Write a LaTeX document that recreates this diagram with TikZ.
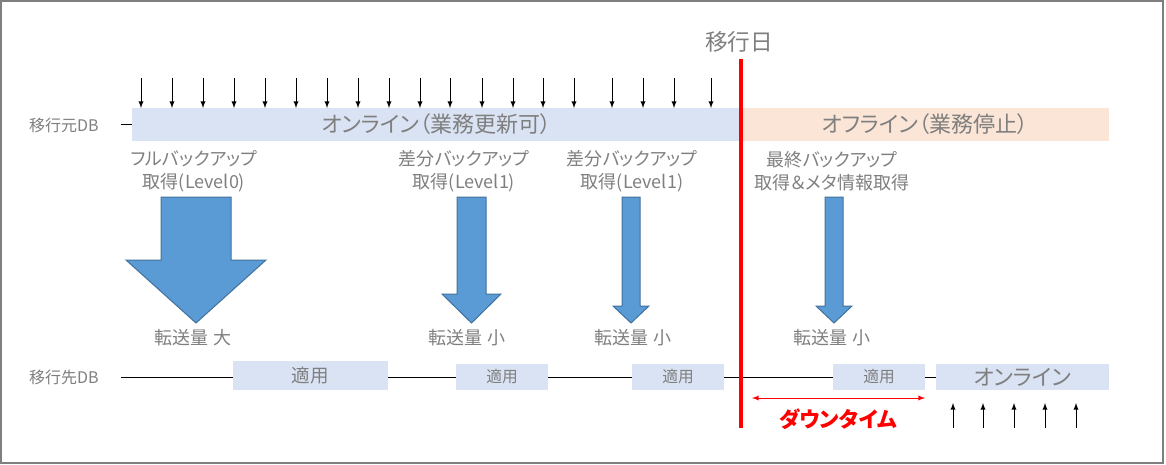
\documentclass[tikz,border=0pt]{standalone}
\usepackage{fontspec}
\setmainfont{Noto Sans CJK JP}[RawFeature=+palt]
\definecolor{txtgray}{HTML}{7F7F7F}
\definecolor{framegray}{HTML}{7F7F7F}
\definecolor{barblue}{HTML}{DAE3F3}
\definecolor{barpeach}{HTML}{FBE5D6}
\definecolor{arrowblue}{HTML}{5B9BD5}
\definecolor{arrowedge}{HTML}{41719C}
\def\pxl{0.75pt}
\begin{document}
\begin{tikzpicture}[x=0.75pt, y=-0.75pt, >=latex,
    gtext/.style={text=txtgray, inner sep=0pt, outer sep=0pt},
    lbl/.style={gtext, align=center, font=\fontsize{13.5}{17.25}\selectfont},
    bar/.style={gtext, minimum height=33*\pxl, font=\fontsize{16.5}{20}\selectfont},
    apl/.style={gtext, fill=barblue, minimum width=92*\pxl, minimum height=26*\pxl, font=\fontsize{11.8}{14}\selectfont},
    fatarrow/.style={fill=arrowblue, draw=arrowedge, line width=0.75pt},
    tick/.style={->, line width=0.75pt},
    migline/.style={red, line width=3pt}]
    \useasboundingbox (0,0) rectangle (1166,464);
    \draw[framegray, line width=1.5pt] (1,1) rectangle (1162.5,462.5);

    % source side
    \node[gtext, anchor=west, font=\fontsize{12}{14}\selectfont] (src) at (29,125) {移行元DB};
    \node[bar, fill=barblue, minimum width=609*\pxl] (onl) at (436.5,124.5) {オンライン（業務更新可）};
    \node[bar, fill=barpeach, minimum width=368*\pxl] (offl) at (925,124.5) {オフライン（業務停止）};
    \coordinate (srcend) at (121,124.5);
    \draw[line width=0.75pt] (srcend) -- (onl.west);

    \draw[tick] (141,78) -- (141,78 |- onl.north);
    \draw[tick] (172,78) -- (172,78 |- onl.north);
    \draw[tick] (203,78) -- (203,78 |- onl.north);
    \draw[tick] (234,78) -- (234,78 |- onl.north);
    \draw[tick] (265,78) -- (265,78 |- onl.north);
    \draw[tick] (296,78) -- (296,78 |- onl.north);
    \draw[tick] (327,78) -- (327,78 |- onl.north);
    \draw[tick] (358,78) -- (358,78 |- onl.north);
    \draw[tick] (389,78) -- (389,78 |- onl.north);
    \draw[tick] (420,78) -- (420,78 |- onl.north);
    \draw[tick] (450,78) -- (450,78 |- onl.north);
    \draw[tick] (482,78) -- (482,78 |- onl.north);
    \draw[tick] (513,78) -- (513,78 |- onl.north);
    \draw[tick] (543,78) -- (543,78 |- onl.north);
    \draw[tick] (574,78) -- (574,78 |- onl.north);
    \draw[tick] (612,78) -- (612,78 |- onl.north);
    \draw[tick] (643,78) -- (643,78 |- onl.north);
    \draw[tick] (674,78) -- (674,78 |- onl.north);
    \draw[tick] (711,78) -- (711,78 |- onl.north);

    % backups
    \node[lbl] (full) at (194,171) {フルバックアップ\\取得(Level0)};
    \node[lbl] (diff1) at (464,171) {差分バックアップ\\取得(Level1)};
    \node[lbl] (diff2) at (632,171) {差分バックアップ\\取得(Level1)};
    \node[lbl] (last) at (832,171) {最終バックアップ\\取得＆メタ情報取得};

    \draw[fatarrow] (161,197) -- (231,197) -- (231,260) -- (266,260) -- (196,323) -- (126,260) -- (161,260) -- cycle;
    \draw[fatarrow] (457,197) -- (486,197) -- (486,294) -- (501,294) -- (471.5,323) -- (442,294) -- (457,294) -- cycle;
    \draw[fatarrow] (622,197) -- (640,197) -- (640,306) -- (649,306) -- (631,323) -- (613,306) -- (622,306) -- cycle;
    \draw[fatarrow] (825,197) -- (843,197) -- (843,306) -- (852,306) -- (834,323) -- (816,306) -- (825,306) -- cycle;

    \node[lbl] (tr1) at (193,338) {転送量 大};
    \node[lbl] (tr2) at (467,338) {転送量 小};
    \node[lbl] (tr3) at (633,338) {転送量 小};
    \node[lbl] (tr4) at (832,338) {転送量 小};

    % target side
    \node[gtext, anchor=west, font=\fontsize{12}{14}\selectfont] (dst) at (29,377) {移行先DB};
    \node[apl, minimum width=155*\pxl, minimum height=29*\pxl, font=\fontsize{13.9}{16}\selectfont] (apl1) at (310.5,375.5) {適用};
    \node[apl] (apl2) at (502,377) {適用};
    \node[apl] (apl3) at (678,377) {適用};
    \node[apl] (apl4) at (879,377) {適用};
    \node[bar, fill=barblue, minimum width=173*\pxl, minimum height=26*\pxl] (onl2) at (1022.5,377) {オンライン};
    \coordinate (dstend) at (121,377);
    \draw[line width=0.75pt] (dstend) -- (dstend -| apl1.west);
    \draw[line width=0.75pt] (apl1.east |- dstend) -- (apl2.west);
    \draw[line width=0.75pt] (apl2.east) -- (apl3.west);
    \draw[line width=0.75pt] (apl3.east) -- (apl4.west);
    \draw[line width=0.75pt] (apl4.east) -- (onl2.west);

    \draw[tick] (953,428) -- (953,403);
    \draw[tick] (983,428) -- (983,403);
    \draw[tick] (1014,428) -- (1014,403);
    \draw[tick] (1045,428) -- (1045,403);
    \draw[tick] (1076,428) -- (1076,403);

    % cut-over
    \node[gtext, font=\fontsize{17}{20}\selectfont] (mig) at (739,42) {移行日};
    \coordinate (mtop) at (741,59);
    \coordinate (mbot) at (741,428);
    \draw[migline] (mtop) -- (mbot);
    \coordinate (dtl) at (752,398);
    \draw[<->, red, line width=0.75pt] (dtl) -- (dtl -| apl4.east);
    \node[text=red, inner sep=0pt, font=\bfseries\fontsize{16}{18}\selectfont] (down) at (838,419) {ダウンタイム};
\end{tikzpicture}
\end{document}
